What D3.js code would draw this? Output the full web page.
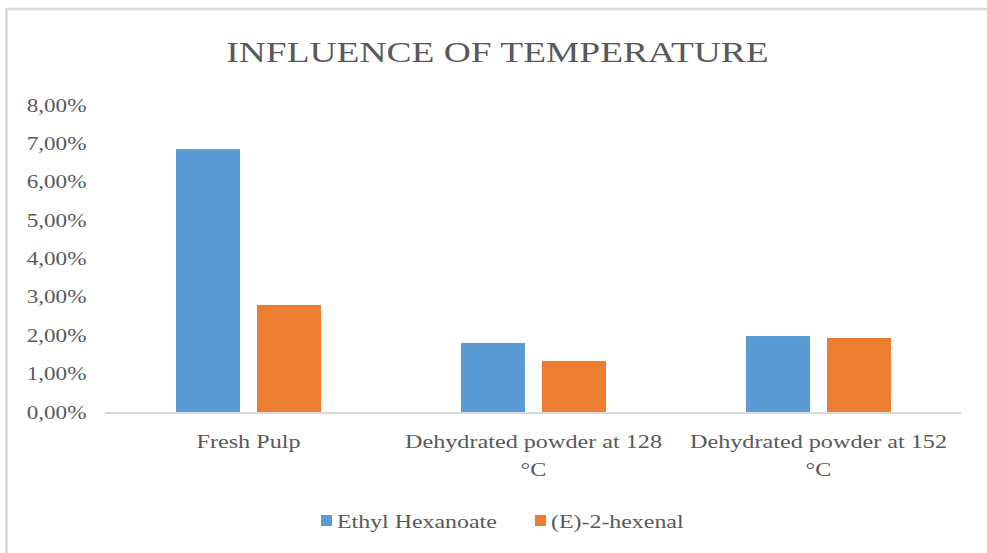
<!DOCTYPE html>
<html>
<head>
<meta charset="utf-8">
<script src="https://cdn.jsdelivr.net/npm/d3@7"></script>
<style>
  html, body { margin: 0; padding: 0; background: #ffffff; }
  svg { display: block; }
</style>
</head>
<body>
<script>
// Chart data
const categories = ["Fresh Pulp", "Dehydrated powder at 128 °C", "Dehydrated powder at 152 °C"];
const categoryLines = [["Fresh Pulp"], ["Dehydrated powder at 128", "°C"], ["Dehydrated powder at 152", "°C"]];
const seriesNames = ["Ethyl Hexanoate", "(E)-2-hexenal"];
const ethylHexanoate = [0.0685, 0.0180, 0.0198];
const hexenal = [0.0279, 0.0133, 0.0193];
const yTicks = [0, 0.01, 0.02, 0.03, 0.04, 0.05, 0.06, 0.07, 0.08];
const titleText = "INFLUENCE OF TEMPERATURE";

const W = 987, H = 553;
const colors = ["#5b9bd5", "#ed7d31"];
const textColor = "#595959";
const fontFamily = "'Liberation Serif', 'Times New Roman', serif";
const stretch = 1.24;

const rows = categories.map((c, i) => ({ category: c, lines: categoryLines[i], values: [ethylHexanoate[i], hexenal[i]] }));

const svg = d3.select("body").append("svg").attr("width", W).attr("height", H);

// outer frame of the chart area
svg.append("rect")
  .attr("x", 6.5).attr("y", 9).attr("width", W + 20).attr("height", H + 20)
  .attr("fill", "none").attr("stroke", "#d9d9d9").attr("stroke-width", 2.5);

// horizontally widened text helper
function label(parent, x, y, str, size, anchor, sx) {
  const g = parent.append("g").attr("transform", `translate(${x},${y})`);
  g.append("text")
    .attr("transform", `scale(${sx || stretch},1)`)
    .attr("text-anchor", anchor)
    .attr("font-family", fontFamily)
    .attr("font-size", size)
    .attr("fill", textColor)
    .text(str);
  return g;
}

const plot = { left: 106, right: 961, top: 105, bottom: 412 };

const x0 = d3.scaleBand().domain(categories).range([plot.left, plot.right]).padding(0);
const groupWidth = 145;
const x1 = d3.scaleBand().domain(seriesNames)
  .range([(x0.bandwidth() - groupWidth) / 2, (x0.bandwidth() + groupWidth) / 2])
  .paddingInner(0.21).paddingOuter(0);
const y = d3.scaleLinear().domain([0, 0.08]).range([plot.bottom, plot.top]);

const fmt = v => (v * 100).toFixed(2).replace(".", ",") + "%";

// title
label(svg, 497.5, 62, titleText, 29.5, "middle", 1.27);

// y axis labels
yTicks.forEach(t => {
  label(svg, 86.5, y(t) + 6.5, fmt(t), 19, "end", 1.22);
});

// bars
const groups = svg.append("g").selectAll("g").data(rows).join("g")
  .attr("transform", d => `translate(${x0(d.category)},0)`);
groups.selectAll("rect").data(d => d.values.map((v, i) => ({ v, i })))
  .join("rect")
  .attr("x", d => x1(seriesNames[d.i]))
  .attr("width", x1.bandwidth())
  .attr("y", d => y(d.v))
  .attr("height", d => y(0) - y(d.v))
  .attr("fill", d => colors[d.i]);

// category axis line
svg.append("line")
  .attr("x1", plot.left - 1).attr("x2", plot.right)
  .attr("y1", y(0) + 1).attr("y2", y(0) + 1)
  .attr("stroke", "#d9d9d9").attr("stroke-width", 2);

// category labels
rows.forEach(r => {
  const cx = x0(r.category) + x0.bandwidth() / 2;
  r.lines.forEach((ln, k) => {
    label(svg, cx, 448 + k * 28, ln, 19.5, "middle");
  });
});

// legend
const legendItems = [{ name: seriesNames[0], x: 321 }, { name: seriesNames[1], x: 535 }];
legendItems.forEach((it, i) => {
  svg.append("rect").attr("x", it.x).attr("y", 515).attr("width", 11).attr("height", 11).attr("fill", colors[i]);
  label(svg, it.x + 16, 528, it.name, 19.5, "start", 1.225);
});
</script>
</body>
</html>
